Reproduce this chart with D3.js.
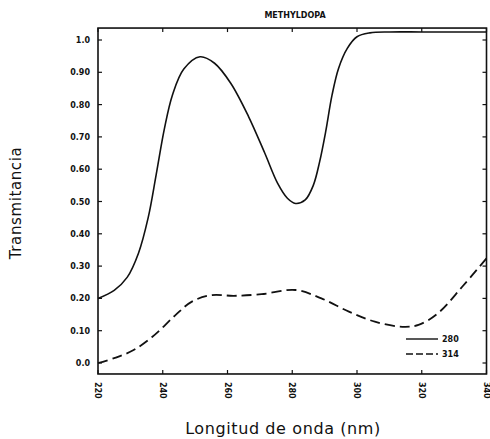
<!DOCTYPE html>
<html>
<head>
<meta charset="utf-8">
<script src="https://cdn.jsdelivr.net/npm/d3@7"></script>
<style>
  html, body { margin: 0; padding: 0; background: #fff; }
  svg { display: block; }
</style>
</head>
<body>
<div id="chart"></div>
<script>
// Methyldopa transmittance spectra, two wavelengths (280 / 314)

const wave280  = [220, 225, 229, 232.5, 235.5, 238, 240.5, 243, 246.5, 251.5, 256, 261, 266.5, 271.5, 275.5, 278.5, 281, 284, 286.5, 288.5, 290.3, 292.3, 294.3, 297, 300, 304, 310, 320, 330, 340];
const trans280 = [0.20, 0.225, 0.265, 0.34, 0.45, 0.585, 0.725, 0.83, 0.91, 0.948, 0.928, 0.866, 0.763, 0.65, 0.556, 0.51, 0.494, 0.505, 0.55, 0.625, 0.715, 0.83, 0.912, 0.974, 1.01, 1.022, 1.025, 1.025, 1.025, 1.025];

const wave314  = [220, 225, 231, 237.5, 244, 249, 255, 262, 270.5, 281, 289, 297.5, 305.5, 314, 319, 325, 332.5, 340];
const trans314 = [0.0, 0.015, 0.04, 0.087, 0.149, 0.19, 0.21, 0.208, 0.213, 0.226, 0.2, 0.159, 0.128, 0.112, 0.118, 0.154, 0.236, 0.324];

const xTicks = [220, 240, 260, 280, 300, 320, 340];
const yTicks = [0, 0.1, 0.2, 0.3, 0.4, 0.5, 0.6, 0.7, 0.8, 0.9, 1.0];
const yTickLabels = ['0.0', '0.10', '0.20', '0.30', '0.40', '0.50', '0.60', '0.70', '0.80', '0.90', '1.0'];
const seriesNames = ['280', '314'];

const W = 490, H = 439;
const svg = d3.select('#chart').append('svg')
  .attr('width', W).attr('height', H);

const x = d3.scaleLinear().domain([220, 340]).range([98, 486.5]);
const y = d3.scaleLinear().domain([0, 1]).range([363, 40]);

const frameTop = y(1.037), frameBottom = y(-0.034);
const tickFont = 'DejaVu Sans, sans-serif';

// frame
svg.append('rect')
  .attr('x', x(220)).attr('y', frameTop)
  .attr('width', x(340) - x(220)).attr('height', frameBottom - frameTop)
  .attr('fill', 'none').attr('stroke', '#111').attr('stroke-width', 1.6);

// ticks on all four sides, pointing inward
const tickLen = 4;
svg.append('g').selectAll('line.yl').data(yTicks).join('line')
  .attr('x1', x(220)).attr('x2', x(220) + tickLen)
  .attr('y1', d => y(d)).attr('y2', d => y(d))
  .attr('stroke', '#111').attr('stroke-width', 1.2);
svg.append('g').selectAll('line.yr').data(yTicks).join('line')
  .attr('x1', x(340)).attr('x2', x(340) - tickLen)
  .attr('y1', d => y(d)).attr('y2', d => y(d))
  .attr('stroke', '#111').attr('stroke-width', 1.2);
svg.append('g').selectAll('line.xb').data(xTicks).join('line')
  .attr('x1', d => x(d)).attr('x2', d => x(d))
  .attr('y1', frameBottom).attr('y2', frameBottom - tickLen)
  .attr('stroke', '#111').attr('stroke-width', 1.2);
svg.append('g').selectAll('line.xt').data(xTicks).join('line')
  .attr('x1', d => x(d)).attr('x2', d => x(d))
  .attr('y1', frameTop).attr('y2', frameTop + tickLen)
  .attr('stroke', '#111').attr('stroke-width', 1.2);

// y tick labels
svg.append('g').selectAll('text').data(yTicks).join('text')
  .attr('x', 90).attr('y', d => y(d) + 3)
  .attr('text-anchor', 'end')
  .attr('font-family', tickFont).attr('font-size', 8).attr('font-weight', 'bold')
  .attr('fill', '#111')
  .text((d, i) => yTickLabels[i]);

// x tick labels, rotated
svg.append('g').selectAll('text').data(xTicks).join('text')
  .attr('transform', d => `translate(${x(d) - 3},${frameBottom + 8}) rotate(90)`)
  .attr('text-anchor', 'start')
  .attr('font-family', tickFont).attr('font-size', 8).attr('font-weight', 'bold')
  .attr('fill', '#111')
  .text(d => d);

// title
svg.append('text')
  .attr('x', 295).attr('y', 18)
  .attr('text-anchor', 'middle')
  .attr('font-family', tickFont).attr('font-size', 8).attr('font-weight', 'bold')
  .attr('fill', '#111')
  .text('METHYLDOPA');

// axis titles
svg.append('text')
  .attr('transform', 'translate(21,203) rotate(-90)')
  .attr('text-anchor', 'middle')
  .attr('font-family', tickFont).attr('font-size', 15)
  .attr('letter-spacing', 0.6)
  .attr('fill', '#111')
  .text('Transmitancia');

svg.append('text')
  .attr('x', 283).attr('y', 434)
  .attr('text-anchor', 'middle')
  .attr('font-family', tickFont).attr('font-size', 16)
  .attr('letter-spacing', 0.6)
  .attr('fill', '#111')
  .text('Longitud de onda (nm)');

// curves
const line = d3.line()
  .x(d => x(d[0])).y(d => y(d[1]))
  .curve(d3.curveCatmullRom.alpha(0.5));

svg.append('path')
  .datum(wave280.map((w, i) => [w, trans280[i]]))
  .attr('d', line)
  .attr('fill', 'none').attr('stroke', '#111').attr('stroke-width', 1.6);

svg.append('path')
  .datum(wave314.map((w, i) => [w, trans314[i]]))
  .attr('d', line)
  .attr('fill', 'none').attr('stroke', '#111').attr('stroke-width', 1.8)
  .attr('stroke-dasharray', '10,5');

// legend
const legend = svg.append('g').attr('transform', 'translate(406,339)');
seriesNames.forEach((name, i) => {
  legend.append('line')
    .attr('x1', 0).attr('x2', 32)
    .attr('y1', i * 15).attr('y2', i * 15)
    .attr('stroke', '#111').attr('stroke-width', 1.4)
    .attr('stroke-dasharray', i === 0 ? null : '7,3');
  legend.append('text')
    .attr('x', 36).attr('y', i * 15 + 3)
    .attr('font-family', tickFont).attr('font-size', 8).attr('font-weight', 'bold')
    .attr('fill', '#111')
    .text(name);
});
</script>
</body>
</html>
